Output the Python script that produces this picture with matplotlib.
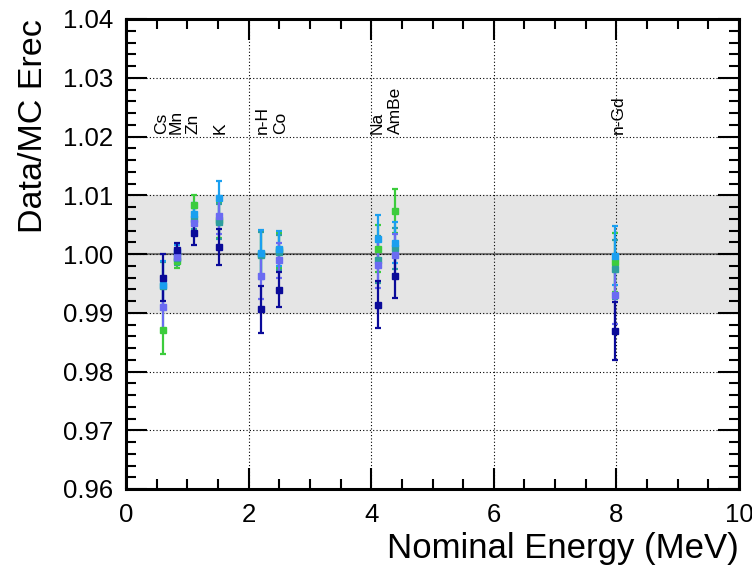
"""Data/MC energy scale vs nominal energy, ROOT-like style."""
import matplotlib
matplotlib.use("Agg")
import matplotlib.pyplot as plt
from matplotlib.ticker import MultipleLocator

plt.rcParams["font.family"] = ["Liberation Sans", "DejaVu Sans"]

sources = ["Cs", "Mn", "Zn", "K", "n-H", "Co", "Na", "AmBe", "n-Gd"]
energy = [0.61, 0.835, 1.11, 1.52, 2.21, 2.49, 4.11, 4.385, 7.98]
label_x = [0.575, 0.815, 1.09, 1.53, 2.22, 2.52, 4.10, 4.40, 8.03]

green = [0.9870, 0.9988, 1.0083, 1.0058, 1.0000, 1.0006, 1.0009, 1.0073, 0.9986]
green_err = [0.0040, 0.0012, 0.0017, 0.0030, 0.0040, 0.0030, 0.0040, 0.0038, 0.0050]
teal = [0.9946, 0.9993, 1.0060, 1.0055, 0.9998, 1.0003, 0.9990, 1.0010, 0.9974]
teal_err = [0.0040, 0.0012, 0.0018, 0.0030, 0.0040, 0.0030, 0.0040, 0.0035, 0.0050]
lblue = [0.9948, 1.0003, 1.0068, 1.0095, 1.0001, 1.0009, 1.0026, 1.0019, 0.9997]
lblue_err = [0.0040, 0.0012, 0.0018, 0.0030, 0.0040, 0.0030, 0.0040, 0.0035, 0.0050]
slate = [0.9909, 0.9995, 1.0052, 1.0064, 0.9963, 0.9989, 0.9982, 0.9999, 0.9931]
slate_err = [0.0040, 0.0012, 0.0018, 0.0030, 0.0040, 0.0030, 0.0040, 0.0035, 0.0050]
navy = [0.9960, 1.0007, 1.0035, 1.0012, 0.9906, 0.9939, 0.9914, 0.9962, 0.9869]
navy_err = [0.0040, 0.0012, 0.0020, 0.0030, 0.0040, 0.0030, 0.0040, 0.0037, 0.0050]

series = [
    (green, green_err, "#3ccc3c"),
    (teal, teal_err, "#2e9e9e"),
    (lblue, lblue_err, "#1a9ff0"),
    (slate, slate_err, "#6b6bf2"),
    (navy, navy_err, "#0a0a99"),
]

fig = plt.figure(figsize=(7.52, 5.68), dpi=100)
ax = fig.add_axes([126 / 752, 1 - 489 / 568, (739 - 126) / 752, (489 - 19) / 568])

ax.axhspan(0.99, 1.01, color="#e5e5e5", zorder=0)
ax.axhline(1.0, color="#777777", lw=1.5, zorder=1)

for vals, errs, col in series:
    ax.errorbar(energy, vals, yerr=errs, fmt="s", color=col, ms=5, elinewidth=1.6,
                capsize=2, capthick=1.6, zorder=3)

for name, x in zip(sources, label_x):
    ax.text(x, 1.0204, name, rotation=90, ha="center", va="bottom", fontsize=12.5)

ax.set_xlim(0, 10)
ax.set_ylim(0.96, 1.04)
ax.xaxis.set_major_locator(MultipleLocator(2))
ax.xaxis.set_minor_locator(MultipleLocator(0.5))
ax.yaxis.set_major_locator(MultipleLocator(0.01))
ax.yaxis.set_minor_locator(MultipleLocator(0.002))
ax.yaxis.set_major_formatter(plt.FormatStrFormatter("%.2f"))
ax.grid(True, which="major", color="black", ls=(0, (1, 2)), lw=0.8, zorder=2)
ax.set_axisbelow(False)

ax.tick_params(which="both", direction="in", top=True, right=True, labelsize=18.5, width=1.5)
ax.tick_params(axis="y", pad=9.5)
ax.tick_params(axis="x", pad=10)
ax.tick_params(which="major", length=15)
ax.tick_params(which="minor", length=7)
for s in ax.spines.values():
    s.set_linewidth(2.2)

ax.set_ylabel("Data/MC Erec", fontsize=24.5, ha="right")
ax.yaxis.set_label_coords(-0.126, 1.0)
ax.set_xlabel("Nominal Energy (MeV)", fontsize=25, ha="right")
ax.xaxis.set_label_coords(1.0, -0.092)

fig.savefig("out.png", dpi=100)
